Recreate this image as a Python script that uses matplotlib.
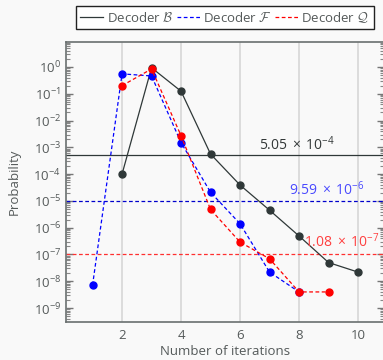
import matplotlib
matplotlib.use("Agg")
import matplotlib.pyplot as plt
from matplotlib.ticker import LogLocator, NullFormatter

# Data
iters_b = [2, 3, 4, 5, 6, 7, 8, 9, 10]
prob_b = [1.0e-4, 0.93, 0.124, 5.6e-4, 3.9e-5, 4.5e-6, 4.9e-7, 5.0e-8, 2.2e-8]

iters_f = [1, 2, 3, 4, 5, 6, 7, 8]
prob_f = [7.1e-9, 0.55, 0.46, 1.5e-3, 2.1e-5, 1.4e-6, 2.2e-8, 4.0e-9]

iters_q = [2, 3, 4, 5, 6, 7, 8, 9]
prob_q = [0.2, 0.84, 2.7e-3, 4.8e-6, 2.9e-7, 6.9e-8, 4.0e-9, 4.0e-9]

thresholds = [5.05e-4, 9.59e-6, 1.08e-7]
threshold_labels = [r"$5.05\;\times\;10^{-4}$", r"$9.59\;\times\;10^{-6}$", r"$1.08\;\times\;10^{-7}$"]

plt.rcParams['font.family'] = ['Open Sans', 'DejaVu Sans']
plt.rcParams['mathtext.fontset'] = 'custom'
plt.rcParams['mathtext.rm'] = 'Open Sans'
plt.rcParams['mathtext.it'] = 'Open Sans:italic'
plt.rcParams['mathtext.bf'] = 'Open Sans:bold'
plt.rcParams['mathtext.cal'] = 'cmsy10'

text_gray = '#555a5a'
bg = '#f9f9f9'

fig = plt.figure(figsize=(3.83, 3.6), dpi=100, facecolor=bg)
ax = fig.add_axes([66 / 383, 38 / 360, 318 / 383, 280 / 360])
ax.set_facecolor(bg)

# vertical grid at major x ticks
for x in [2, 4, 6, 8, 10]:
    ax.axvline(x, color='#d4d4d4', lw=1.1, zorder=0)

ax.plot(iters_b, prob_b, color='#2f3838', lw=0.9, marker='o', ms=5,
        label=r'Decoder $\mathcal{B}$', zorder=3)
ax.plot(iters_f, prob_f, color='#0000ff', lw=0.9, ls='--', dashes=(3, 2), marker='o', ms=5,
        label=r'Decoder $\mathcal{F}$', zorder=3)
ax.plot(iters_q, prob_q, color='#ff0000', lw=0.9, ls='--', dashes=(3, 2), marker='o', ms=5,
        label=r'Decoder $\mathcal{Q}$', zorder=3)

# threshold lines and labels
ax.axhline(thresholds[0], color='#2f3838', lw=0.9)
ax.axhline(thresholds[1], color='#0000cc', lw=0.9, ls='--', dashes=(3, 2))
ax.axhline(thresholds[2], color='#ff3030', lw=0.9, ls='--', dashes=(3, 2))
ax.text(7.93, thresholds[0] * 1.6, threshold_labels[0], color='#333838',
        ha='center', va='baseline', fontsize=10)
ax.text(8.95, thresholds[1] * 1.7, threshold_labels[1], color='#4a4aff',
        ha='center', va='baseline', fontsize=10)
ax.text(9.45, thresholds[2] * 1.7, threshold_labels[2], color='#ff4040',
        ha='center', va='baseline', fontsize=10)

ax.set_yscale('log')
ax.set_xlim(0.1, 10.88)
ax.set_ylim(10 ** -9.52, 10 ** 0.93)
ax.set_xticks([2, 4, 6, 8, 10])
ax.yaxis.set_major_locator(LogLocator(base=10, numticks=20))
ax.yaxis.set_minor_locator(LogLocator(base=10, subs=range(2, 10), numticks=20))
ax.yaxis.set_minor_formatter(NullFormatter())

ax.tick_params(axis='y', which='major', direction='in', length=5, width=1,
               color='#777777', labelcolor=text_gray, labelsize=9.5, right=True)
ax.tick_params(axis='y', which='minor', direction='in', length=3, width=0.8,
               color='#888888', right=True)
ax.tick_params(axis='x', which='both', length=0, labelcolor=text_gray,
               labelsize=9.5, pad=5)

for s in ax.spines.values():
    s.set_color('#6a7070')
    s.set_linewidth(1.2)

ax.set_xlabel('Number of iterations', color=text_gray, fontsize=9.5, labelpad=2)
ax.set_ylabel('Probability', color=text_gray, fontsize=9.5, labelpad=9)

leg = fig.legend(loc='upper center', bbox_to_anchor=(225 / 383, 1 - 6 / 360), ncol=3,
                 fancybox=False, frameon=True, edgecolor='#222222', facecolor='white',
                 fontsize=9.5, handlelength=1.75, columnspacing=0.25, handletextpad=0.25,
                 borderpad=0.3, borderaxespad=0, framealpha=1)
leg.get_frame().set_linewidth(1.0)
for t in leg.get_texts():
    t.set_color(text_gray)
for h in leg.legend_handles:
    h.set_marker('')

fig.savefig('out.png', dpi=100, facecolor=bg)
